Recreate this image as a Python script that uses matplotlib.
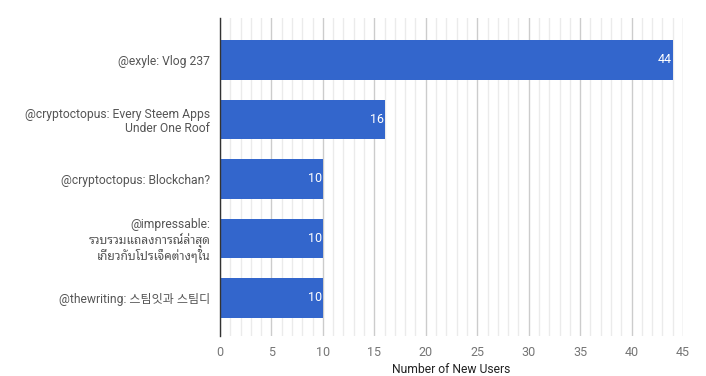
import matplotlib
matplotlib.use("Agg")
import matplotlib.pyplot as plt
from matplotlib.ticker import MultipleLocator

plt.rcParams['font.family'] = ['Roboto', 'Noto Sans Thai Looped', 'Noto Sans CJK KR', 'DejaVu Sans']

categories = [
    "@exyle: Vlog 237",
    "@cryptoctopus: Every Steem Apps\nUnder One Roof",
    "@cryptoctopus: Blockchan?",
    "@impressable:\nรวบรวมแถลงการณ์ล่าสุด\nเกี่ยวกับโปรเจ็คต่างๆใน",
    "@thewriting: 스팀잇과 스팀디",
]
values = [44, 16, 10, 10, 10]
x_ticks = [0, 5, 10, 15, 20, 25, 30, 35, 40, 45]
x_title = "Number of New Users"

fig = plt.figure(figsize=(7.06, 3.76), dpi=100)
ax = fig.add_axes([220/706, 1-336/376, (683-220)/706, (336-18)/376])

ys = list(range(len(categories)))
ax.barh(ys, values, height=0.66, color="#3366cc", zorder=3)
for y, v in zip(ys, values):
    ax.text(v - 0.1, y, str(v), color="white", ha="right", va="center",
            fontsize=9, zorder=4)

ax.set_xlim(0, 45)
ax.set_ylim(4.64, -0.706)
ax.set_yticks(ys)
ax.set_yticklabels(categories, fontsize=8.7, color="#555555", linespacing=1.15)
ax.set_xticks(x_ticks)
ax.xaxis.set_minor_locator(MultipleLocator(1))
ax.grid(True, axis="x", which="major", color="#cccccc", linewidth=1, zorder=0)
ax.grid(True, axis="x", which="minor", color="#ebebeb", linewidth=1, zorder=0)
ax.tick_params(axis="both", which="both", length=0)
ax.tick_params(axis="x", labelsize=9, labelcolor="#757575", pad=7)
ax.tick_params(axis="y", pad=7)
for s in ["top", "right", "bottom"]:
    ax.spines[s].set_visible(False)
ax.spines["left"].set_color("#333333")
ax.spines["left"].set_linewidth(1)
ax.spines["left"].set_zorder(5)
ax.set_xlabel(x_title, fontsize=8.7, color="#222222", labelpad=3)

fig.savefig("out.png", dpi=100)
